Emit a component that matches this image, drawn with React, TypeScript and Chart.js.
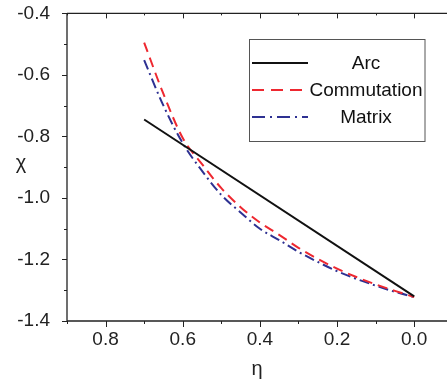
import React, { useEffect, useRef } from "react";
import { Chart, registerables } from "chart.js";

Chart.register(...registerables);

const etaArc = [0.7, 0.0];
const chiArc = [-0.745, -1.32];

const eta = [0.7, 0.65, 0.6, 0.55, 0.5, 0.45, 0.4, 0.35, 0.3, 0.25, 0.2, 0.15, 0.1, 0.05, 0.0];
const chiCommutation = [-0.495, -0.662, -0.805, -0.89, -0.968, -1.03, -1.08, -1.12, -1.162, -1.198, -1.23, -1.257, -1.281, -1.302, -1.322];
const chiMatrix = [-0.552, -0.70, -0.822, -0.912, -0.99, -1.047, -1.10, -1.137, -1.175, -1.208, -1.238, -1.263, -1.285, -1.305, -1.322];

const xMajorTicks = [0.8, 0.6, 0.4, 0.2, 0.0];
const xMinorTicks = [0.9, 0.7, 0.5, 0.3, 0.1];
const yMajorTicks = [-0.4, -0.6, -0.8, -1.0, -1.2, -1.4];
const yMinorTicks = [-0.5, -0.7, -0.9, -1.1, -1.3];

const seriesNames = ["Arc", "Commutation", "Matrix"];
const yTitle = "χ";
const xTitle = "η";

const FONT = "'Liberation Sans', Arial, sans-serif";
const SHIFT = 7;

const framePlugin = {
  id: "frameTicks",
  afterDraw(chart: any) {
    const { ctx, chartArea, scales } = chart;
    const { left, right, top, bottom } = chartArea;
    ctx.save();
    ctx.strokeStyle = "#222";
    ctx.lineWidth = 1.3;
    ctx.beginPath();
    ctx.moveTo(left, top);
    ctx.lineTo(left, bottom);
    ctx.lineTo(right, bottom);
    ctx.moveTo(left, top);
    ctx.lineTo(right, top);
    ctx.stroke();
    ctx.lineWidth = 1;
    ctx.beginPath();
    const xs = scales.x;
    const ys = scales.y;
    const drawX = (v: number, len: number) => {
      const px = Math.round(xs.getPixelForValue(v)) + 0.5;
      ctx.moveTo(px, bottom);
      ctx.lineTo(px, bottom + len);
      ctx.moveTo(px, top);
      ctx.lineTo(px, top + len - 1);
    };
    xMajorTicks.forEach((v) => drawX(v, 6));
    xMinorTicks.forEach((v) => drawX(v, 3));
    const drawY = (v: number, len: number) => {
      const py = Math.round(ys.getPixelForValue(v)) + 0.5;
      ctx.moveTo(left, py);
      ctx.lineTo(left - len, py);
    };
    yMajorTicks.forEach((v) => drawY(v, 5));
    yMinorTicks.forEach((v) => drawY(v, 3));
    ctx.stroke();
    ctx.fillStyle = "#222";
    ctx.font = `20px ${FONT}`;
    ctx.textAlign = "center";
    ctx.textBaseline = "middle";
    ctx.fillText(yTitle, 21, (top + bottom) / 2 - 4);
    ctx.restore();
  },
};

const legendPlugin = {
  id: "boxLegend",
  afterDraw(chart: any) {
    const { ctx } = chart;
    const bx = 249.5, by = 39.5 + SHIFT, bw = 175.5, bh = 102;
    ctx.save();
    ctx.fillStyle = "#fff";
    ctx.fillRect(bx, by, bw, bh);
    ctx.strokeStyle = "#555";
    ctx.lineWidth = 1;
    ctx.strokeRect(bx, by, bw, bh);
    const rows = [63, 90, 117];
    chart.data.datasets.forEach((ds: any, i: number) => {
      const y = rows[i] + SHIFT;
      ctx.beginPath();
      ctx.strokeStyle = ds.borderColor;
      ctx.lineWidth = 2;
      ctx.setLineDash(ds.legendDash || []);
      ctx.moveTo(252, y);
      ctx.lineTo(308, y);
      ctx.stroke();
      ctx.setLineDash([]);
      ctx.fillStyle = "#111";
      ctx.font = `19px ${FONT}`;
      ctx.textAlign = "center";
      ctx.textBaseline = "middle";
      ctx.fillText(ds.label, 366, y + 1);
    });
    ctx.restore();
  },
};

export default function App() {
  const ref = useRef<HTMLCanvasElement | null>(null);
  useEffect(() => {
    document.body.style.margin = "0";
    document.body.style.overflow = "hidden";
    const canvas = ref.current!;
    const chart = new Chart(canvas, {
      type: "line",
      data: {
        datasets: [
          {
            label: seriesNames[0],
            data: etaArc.map((x, i) => ({ x, y: chiArc[i] })),
            borderColor: "#111",
            borderWidth: 2,
            pointRadius: 0,
            legendDash: [],
          } as any,
          {
            label: seriesNames[1],
            data: eta.map((x, i) => ({ x, y: chiCommutation[i] })),
            borderColor: "#ee2830",
            borderWidth: 2,
            borderDash: [10, 6],
            pointRadius: 0,
            cubicInterpolationMode: "monotone",
            legendDash: [12, 7],
          } as any,
          {
            label: seriesNames[2],
            data: eta.map((x, i) => ({ x, y: chiMatrix[i] })),
            borderColor: "#2e3192",
            borderWidth: 2,
            borderDash: [10, 4, 2, 4],
            pointRadius: 0,
            cubicInterpolationMode: "monotone",
            legendDash: [13, 5, 2, 5],
          } as any,
        ],
      },
      options: {
        animation: false,
        responsive: false,
        maintainAspectRatio: false,
        layout: { padding: { top: 6, right: 0, left: 0, bottom: 0 } },
        plugins: { legend: { display: false }, tooltip: { enabled: false } },
        scales: {
          x: {
            type: "linear",
            reverse: true,
            min: -0.085,
            max: 0.9,
            grid: { display: false, drawTicks: false },
            border: { display: false },
            afterFit: (s: any) => {
              s.height = 62;
            },
            afterBuildTicks: (s: any) => {
              s.ticks = xMajorTicks.map((v) => ({ value: v }));
            },
            ticks: {
              padding: 7,
              color: "#222",
              font: { family: FONT, size: 19 },
              callback: (v: any) => Number(v).toFixed(1),
            },
            title: {
              display: true,
              text: xTitle,
              color: "#222",
              font: { family: FONT, size: 20 },
              padding: { top: 0, bottom: 2 },
            },
          },
          y: {
            type: "linear",
            min: -1.4,
            max: -0.4,
            grid: { display: false },
            border: { display: false },
            afterFit: (s: any) => {
              s.width = 67;
            },
            afterBuildTicks: (s: any) => {
              s.ticks = yMajorTicks.map((v) => ({ value: v }));
            },
            ticks: {
              padding: 9,
              color: "#222",
              font: { family: FONT, size: 19 },
              callback: (v: any) => Number(v).toFixed(1),
            },
          },
        },
      },
      plugins: [framePlugin, legendPlugin],
    } as any);
    return () => chart.destroy();
  }, []);
  return (
    <div style={{ width: 447, height: 383, overflow: "hidden" }}>
      <canvas
        ref={ref}
        width={447}
        height={383 + SHIFT}
        style={{ display: "block", marginTop: -SHIFT }}
      />
    </div>
  );
}
